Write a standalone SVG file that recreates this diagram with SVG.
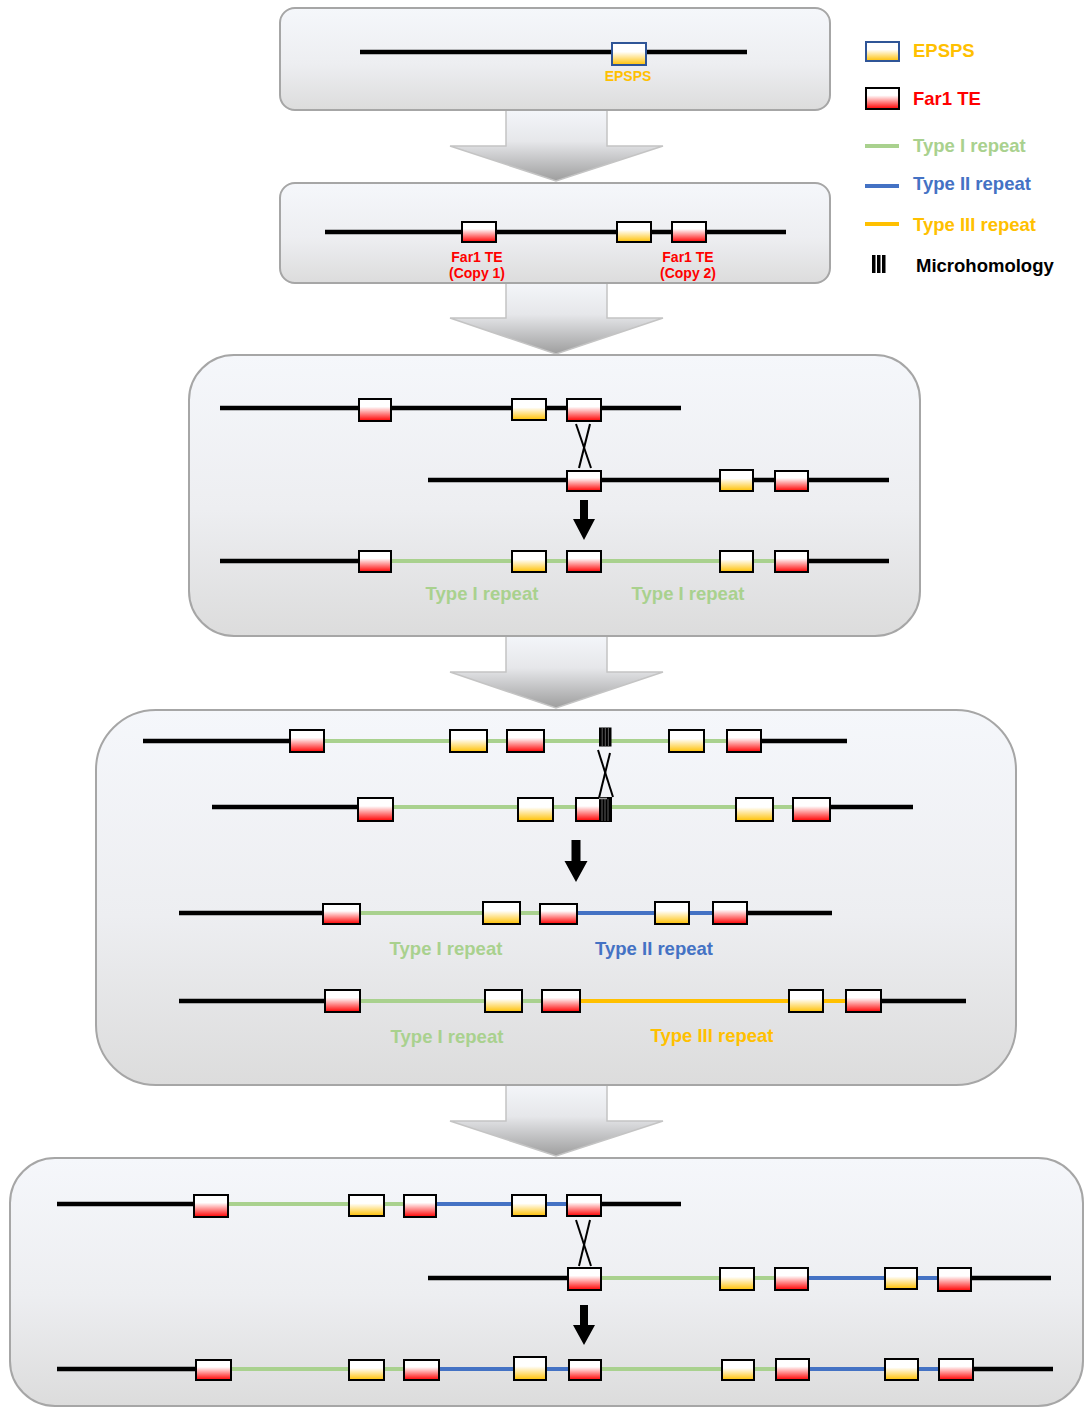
<svg xmlns="http://www.w3.org/2000/svg" width="1085" height="1408" viewBox="0 0 1085 1408">
<defs>
<linearGradient id="gPanel" x1="0" y1="0" x2="0" y2="1"><stop offset="0" stop-color="#F5F7FB"/><stop offset="0.55" stop-color="#EDEEF1"/><stop offset="1" stop-color="#DCDCDC"/></linearGradient>
<linearGradient id="gArrow" x1="0" y1="0" x2="0" y2="1"><stop offset="0" stop-color="#F4F6FA"/><stop offset="0.45" stop-color="#E6E7EA"/><stop offset="1" stop-color="#9E9E9E"/></linearGradient>
<linearGradient id="gEp" x1="0" y1="0" x2="0" y2="1"><stop offset="0" stop-color="#FFFFFF"/><stop offset="0.4" stop-color="#FFFFFF"/><stop offset="1" stop-color="#FFC000"/></linearGradient>
<linearGradient id="gTe" x1="0" y1="0" x2="0" y2="1"><stop offset="0" stop-color="#FFFFFF"/><stop offset="0.35" stop-color="#FFFFFF"/><stop offset="1" stop-color="#FF0000"/></linearGradient>
</defs>
<style>
.panel{fill:url(#gPanel);stroke:#A6A6A6;stroke-width:2}
.barrow{fill:url(#gArrow);stroke:#C4C4C4;stroke-width:1.5}
.blk{stroke:#000;stroke-width:4.5}
.g{stroke:#A9D18E;stroke-width:4}
.b{stroke:#4472C4;stroke-width:4}
.o{stroke:#FFC000;stroke-width:4}
.ep{fill:url(#gEp);stroke:#000;stroke-width:2}
.epb{fill:url(#gEp);stroke:#2F5597;stroke-width:2}
.te{fill:url(#gTe);stroke:#000;stroke-width:2}
.x{stroke:#000;stroke-width:2;fill:none}
.mh{fill:#000}
.mhs{stroke:#777;stroke-width:0.8}
.sarrow{fill:#000}
text{font-family:"Liberation Sans",Arial,sans-serif;font-weight:bold}
.lbl{font-size:18.5px;text-anchor:middle}
.sm{font-size:14px;text-anchor:middle}
.leg{font-size:18.5px}
.tg{fill:#A9D18E}
.tb{fill:#4472C4}
.to{fill:#FFC000}
.tr{fill:#FF0000}
.tk{fill:#000}
</style>

<g id="connectors">
<path class="barrow" d="M506,109 H607 V146 H663 L556,181 L450,146 H506 Z"/>
<path class="barrow" d="M506,282 H607 V318 H663 L556,354 L450,318 H506 Z"/>
<path class="barrow" d="M506,635 H607 V672 H663 L556,708 L450,672 H506 Z"/>
<path class="barrow" d="M506,1084 H607 V1121 H663 L556,1156 L450,1121 H506 Z"/>
</g>

<g id="step1">
<rect class="panel" x="280" y="8" width="550" height="102" rx="15"/>
<line class="blk" x1="360" y1="52" x2="747" y2="52"/>
<rect class="epb" x="612" y="43" width="34" height="22"/>
<text class="sm to" x="628" y="81">EPSPS</text>
</g>

<g id="step2">
<rect class="panel" x="280" y="183" width="550" height="100" rx="15"/>
<line class="blk" x1="325" y1="232" x2="786" y2="232"/>
<rect class="te" x="462" y="222" width="34" height="20"/>
<rect class="ep" x="617" y="222" width="34" height="20"/>
<rect class="te" x="672" y="222" width="34" height="20"/>
<text class="sm tr" x="477" y="262">Far1 TE</text>
<text class="sm tr" x="477" y="278">(Copy 1)</text>
<text class="sm tr" x="688" y="262">Far1 TE</text>
<text class="sm tr" x="688" y="278">(Copy 2)</text>
</g>

<g id="step3">
<rect class="panel" x="189" y="355" width="731" height="281" rx="45"/>
<line class="blk" x1="220" y1="408" x2="681" y2="408"/>
<rect class="te" x="359" y="399" width="32" height="22"/>
<rect class="ep" x="512" y="399" width="34" height="21"/>
<rect class="te" x="567" y="399" width="34" height="22"/>
<line class="x" x1="576" y1="424" x2="591" y2="468"/>
<line class="x" x1="590" y1="424" x2="579" y2="468"/>
<line class="blk" x1="428" y1="480" x2="889" y2="480"/>
<rect class="te" x="567" y="471" width="34" height="20"/>
<rect class="ep" x="720" y="470" width="33" height="21"/>
<rect class="te" x="775" y="471" width="33" height="20"/>
<path class="sarrow" d="M580,500 H588 V519 H595 L584,540 L573,519 H580 Z"/>
<line class="blk" x1="220" y1="561" x2="359" y2="561"/>
<line class="g" x1="391" y1="561" x2="775" y2="561"/>
<line class="blk" x1="808" y1="561" x2="889" y2="561"/>
<rect class="te" x="359" y="551" width="32" height="21"/>
<rect class="ep" x="512" y="551" width="34" height="21"/>
<rect class="te" x="567" y="551" width="34" height="21"/>
<rect class="ep" x="720" y="551" width="33" height="21"/>
<rect class="te" x="775" y="551" width="33" height="21"/>
<text class="lbl tg" x="482" y="600">Type I repeat</text>
<text class="lbl tg" x="688" y="600">Type I repeat</text>
</g>

<g id="step4">
<rect class="panel" x="96" y="710" width="920" height="375" rx="60"/>
<line class="blk" x1="143" y1="741" x2="290" y2="741"/>
<line class="g" x1="324" y1="741" x2="727" y2="741"/>
<line class="blk" x1="761" y1="741" x2="847" y2="741"/>
<rect class="te" x="290" y="730" width="34" height="22"/>
<rect class="ep" x="450" y="730" width="37" height="22"/>
<rect class="te" x="507" y="730" width="37" height="22"/>
<rect class="mh" x="599" y="727.5" width="12.5" height="19"/>
<g class="mhs"><line x1="602.2" y1="727.5" x2="602.2" y2="746.5"/><line x1="605.3" y1="727.5" x2="605.3" y2="746.5"/><line x1="608.4" y1="727.5" x2="608.4" y2="746.5"/></g>
<rect class="ep" x="669" y="730" width="35" height="22"/>
<rect class="te" x="727" y="730" width="34" height="22"/>
<line class="x" x1="598" y1="750" x2="613" y2="797"/>
<line class="x" x1="610" y1="753" x2="599" y2="798"/>
<line class="blk" x1="212" y1="807" x2="358" y2="807"/>
<line class="g" x1="393" y1="807" x2="793" y2="807"/>
<line class="blk" x1="830" y1="807" x2="913" y2="807"/>
<rect class="te" x="358" y="798" width="35" height="23"/>
<rect class="ep" x="518" y="798" width="35" height="23"/>
<rect class="te" x="576" y="798" width="35" height="23"/>
<rect class="mh" x="599" y="798" width="12" height="23"/>
<line x1="599" y1="798.5" x2="607" y2="798.5" stroke="#999" stroke-width="1.5"/>
<g class="mhs"><line x1="602" y1="799" x2="602" y2="821"/><line x1="605" y1="799" x2="605" y2="821"/><line x1="608" y1="799" x2="608" y2="821"/></g>
<rect class="ep" x="736" y="798" width="37" height="23"/>
<rect class="te" x="793" y="798" width="37" height="23"/>
<path class="sarrow" d="M571.5,840 H580.5 V861 H587.5 L576,882 L564.5,861 H571.5 Z"/>
<line class="blk" x1="179" y1="913" x2="323" y2="913"/>
<line class="g" x1="360" y1="913" x2="540" y2="913"/>
<line class="b" x1="577" y1="913" x2="713" y2="913"/>
<line class="blk" x1="747" y1="913" x2="832" y2="913"/>
<rect class="te" x="323" y="904" width="37" height="20"/>
<rect class="ep" x="483" y="902" width="37" height="22"/>
<rect class="te" x="540" y="904" width="37" height="20"/>
<rect class="ep" x="655" y="902" width="34" height="22"/>
<rect class="te" x="713" y="902" width="34" height="22"/>
<text class="lbl tg" x="446" y="955">Type I repeat</text>
<text class="lbl tb" x="654" y="955">Type II repeat</text>
<line class="blk" x1="179" y1="1001" x2="325" y2="1001"/>
<line class="g" x1="360" y1="1001" x2="542" y2="1001"/>
<line class="o" x1="580" y1="1001" x2="846" y2="1001"/>
<line class="blk" x1="881" y1="1001" x2="966" y2="1001"/>
<rect class="te" x="325" y="990" width="35" height="22"/>
<rect class="ep" x="485" y="990" width="37" height="22"/>
<rect class="te" x="542" y="990" width="38" height="22"/>
<rect class="ep" x="789" y="990" width="34" height="22"/>
<rect class="te" x="846" y="990" width="35" height="22"/>
<text class="lbl tg" x="447" y="1043">Type I repeat</text>
<text class="lbl to" x="712" y="1042">Type III repeat</text>
</g>

<g id="step5">
<rect class="panel" x="10" y="1158" width="1073" height="248" rx="45"/>
<line class="blk" x1="57" y1="1204" x2="194" y2="1204"/>
<line class="g" x1="228" y1="1204" x2="404" y2="1204"/>
<line class="b" x1="436" y1="1204" x2="567" y2="1204"/>
<line class="blk" x1="601" y1="1204" x2="681" y2="1204"/>
<rect class="te" x="194" y="1195" width="34" height="22"/>
<rect class="ep" x="349" y="1195" width="35" height="21"/>
<rect class="te" x="404" y="1195" width="32" height="22"/>
<rect class="ep" x="512" y="1195" width="34" height="21"/>
<rect class="te" x="567" y="1195" width="34" height="21"/>
<line class="x" x1="576" y1="1220" x2="591" y2="1266"/>
<line class="x" x1="590" y1="1220" x2="579" y2="1266"/>
<line class="blk" x1="428" y1="1278" x2="568" y2="1278"/>
<line class="g" x1="601" y1="1278" x2="775" y2="1278"/>
<line class="b" x1="808" y1="1278" x2="938" y2="1278"/>
<line class="blk" x1="971" y1="1278" x2="1051" y2="1278"/>
<rect class="te" x="568" y="1268" width="33" height="22"/>
<rect class="ep" x="720" y="1268" width="34" height="22"/>
<rect class="te" x="775" y="1268" width="33" height="22"/>
<rect class="ep" x="885" y="1268" width="32" height="21"/>
<rect class="te" x="938" y="1268" width="33" height="23"/>
<path class="sarrow" d="M580,1305 H588 V1325 H595 L584,1345 L573,1325 H580 Z"/>
<line class="blk" x1="57" y1="1369" x2="196" y2="1369"/>
<line class="g" x1="231" y1="1369" x2="404" y2="1369"/>
<line class="b" x1="439" y1="1369" x2="569" y2="1369"/>
<line class="g" x1="601" y1="1369" x2="776" y2="1369"/>
<line class="b" x1="809" y1="1369" x2="939" y2="1369"/>
<line class="blk" x1="973" y1="1369" x2="1053" y2="1369"/>
<rect class="te" x="196" y="1360" width="35" height="20"/>
<rect class="ep" x="349" y="1360" width="35" height="20"/>
<rect class="te" x="404" y="1360" width="35" height="20"/>
<rect class="ep" x="514" y="1357" width="32" height="23"/>
<rect class="te" x="569" y="1360" width="32" height="20"/>
<rect class="ep" x="722" y="1360" width="32" height="20"/>
<rect class="te" x="776" y="1359" width="33" height="21"/>
<rect class="ep" x="885" y="1359" width="33" height="21"/>
<rect class="te" x="939" y="1359" width="34" height="21"/>
</g>

<g id="legend">
<g id="legend-epsps"><rect class="epb" x="866" y="42" width="33" height="19"/><text class="leg to" x="913" y="57">EPSPS</text></g>
<g id="legend-far1"><rect class="te" x="866" y="88" width="33" height="21"/><text class="leg tr" x="913" y="105">Far1 TE</text></g>
<g id="legend-type1"><line class="g" x1="865" y1="146" x2="899" y2="146"/><text class="leg tg" x="913" y="152">Type I repeat</text></g>
<g id="legend-type2"><line class="b" x1="865" y1="186" x2="899" y2="186"/><text class="leg tb" x="913" y="190">Type II repeat</text></g>
<g id="legend-type3"><line class="o" x1="865" y1="224" x2="899" y2="224"/><text class="leg to" x="913" y="231">Type III repeat</text></g>
<g id="legend-micro"><rect class="mh" x="872" y="255" width="3.5" height="18"/><rect class="mh" x="877" y="255" width="3.5" height="18"/><rect class="mh" x="882" y="255" width="3.5" height="18"/><text class="leg tk" x="916" y="272">Microhomology</text></g>
</g>
</svg>
